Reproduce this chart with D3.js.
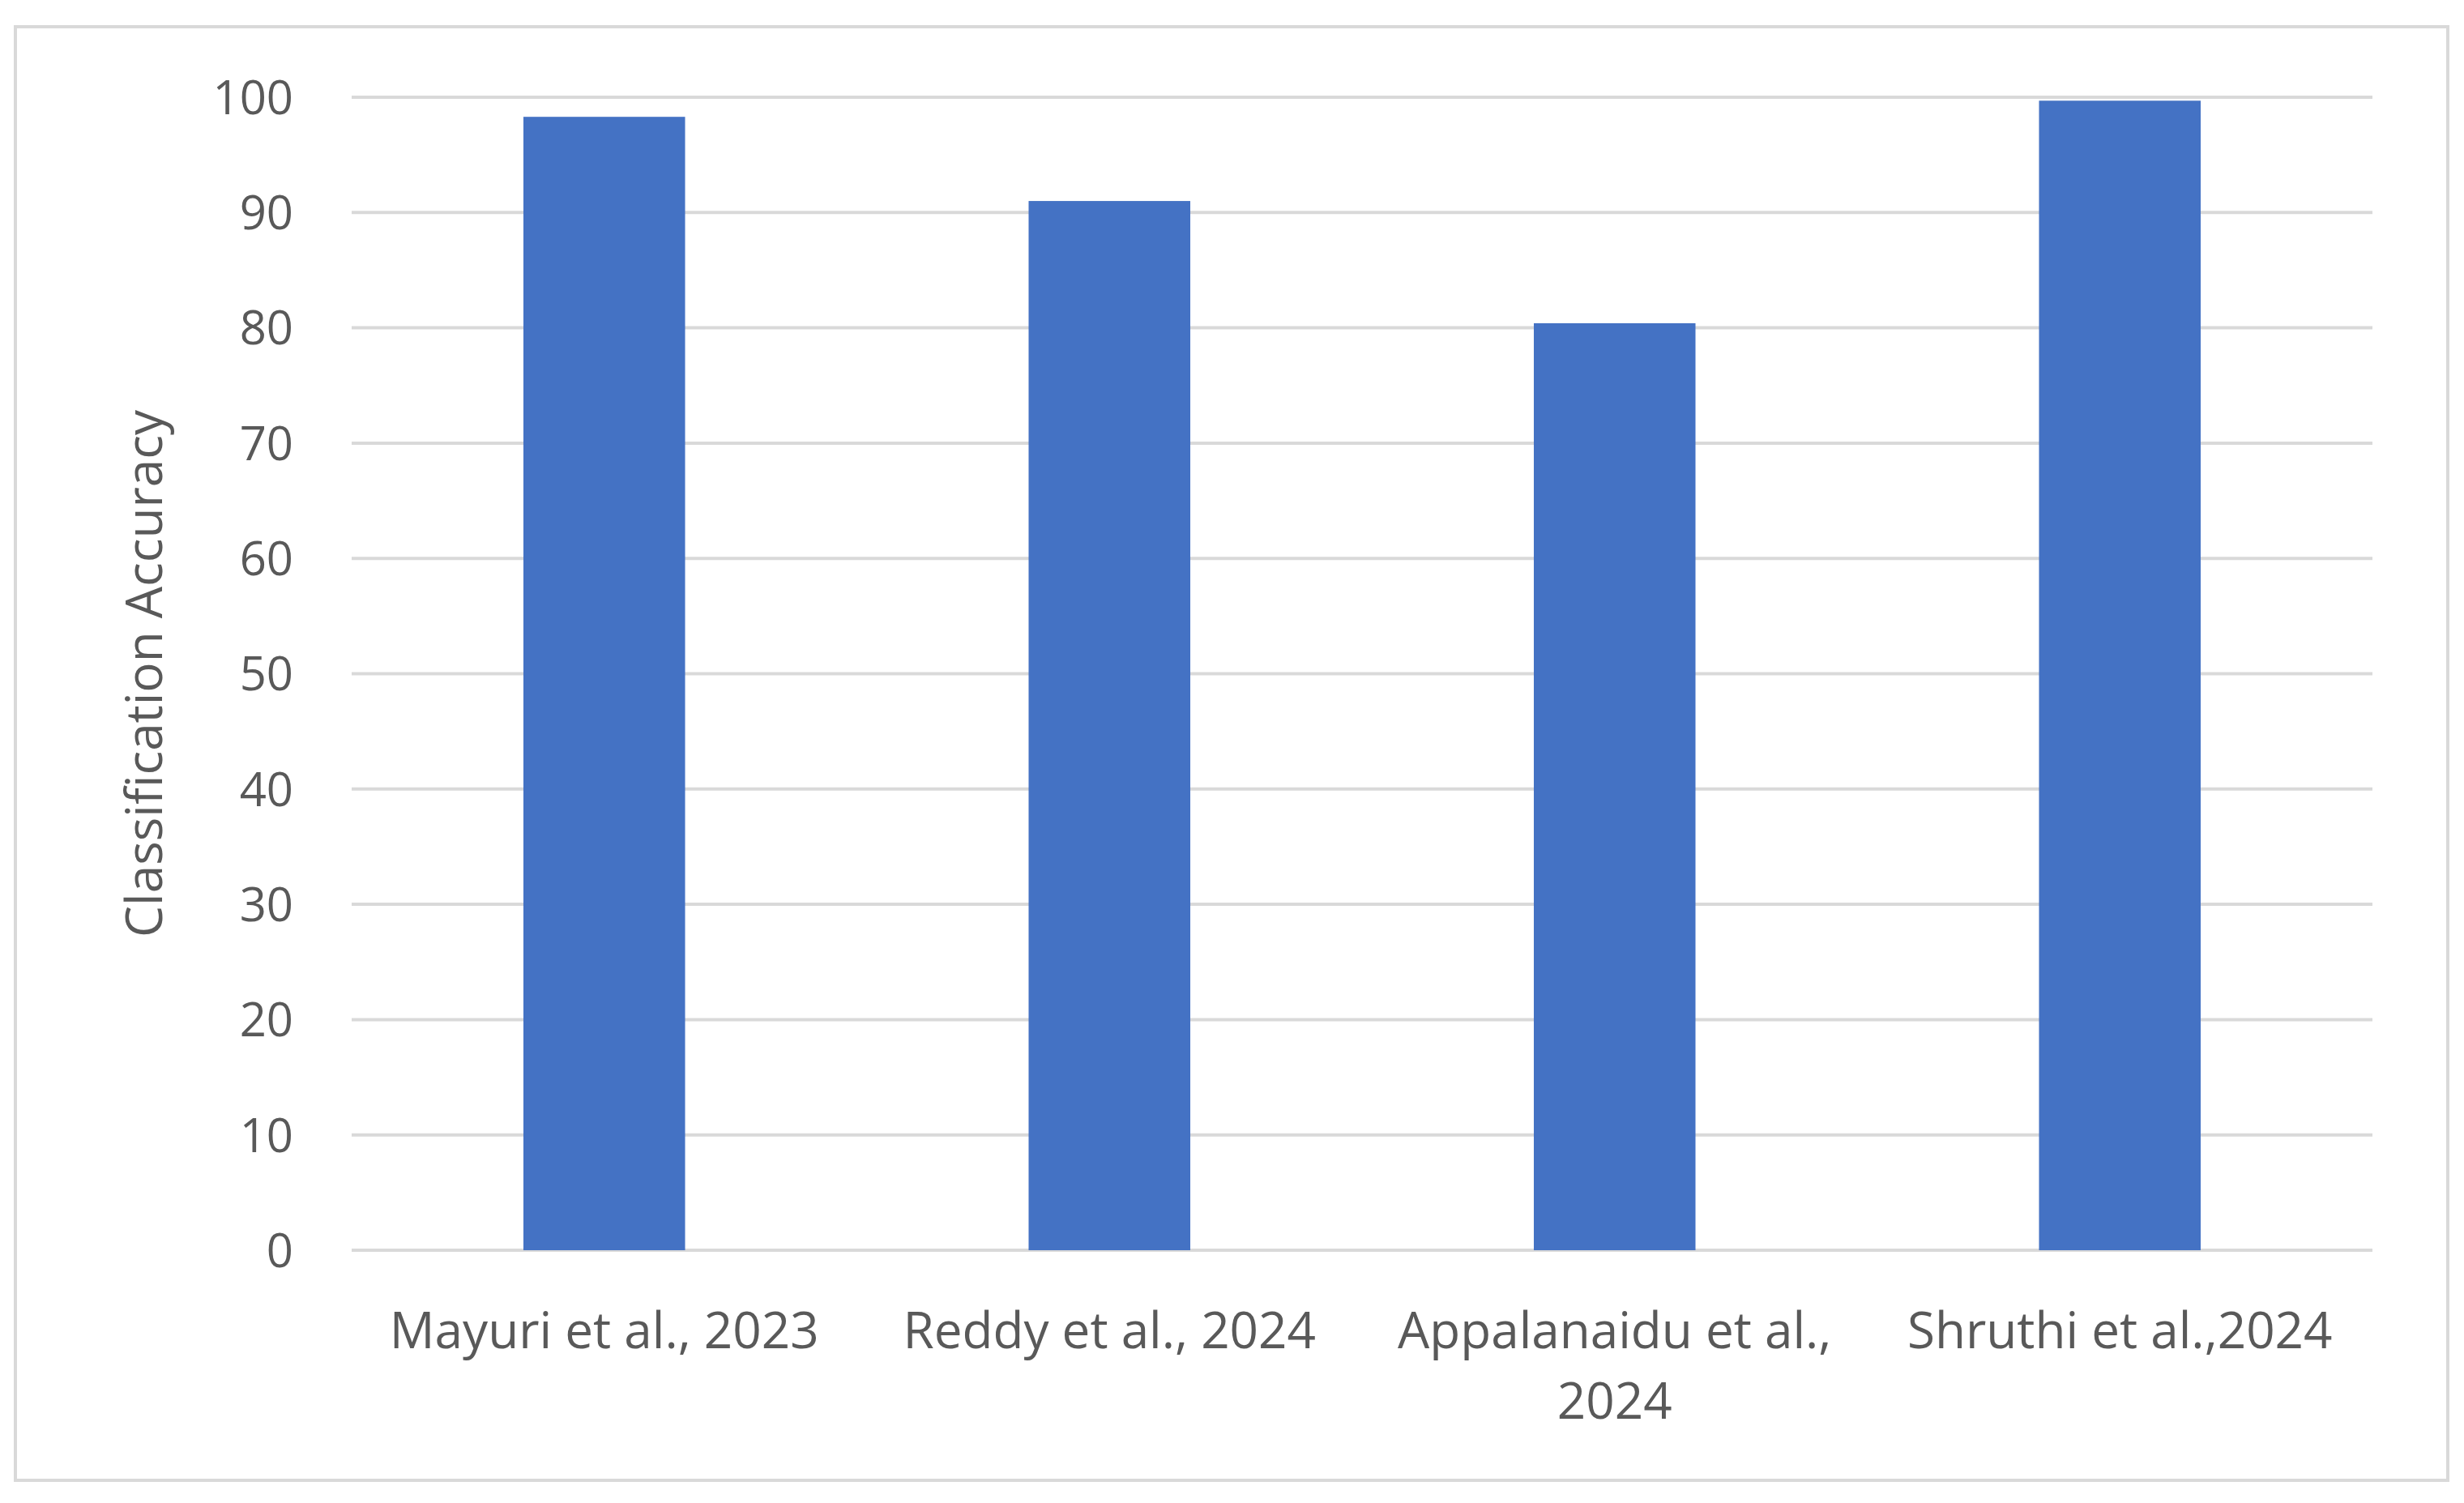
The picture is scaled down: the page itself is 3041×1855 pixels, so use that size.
<!DOCTYPE html>
<html>
<head>
<meta charset="utf-8">
<script src="https://cdn.jsdelivr.net/npm/d3@7"></script>
<style>
  body { margin: 0; background: #fff; }
  text { font-family: "Open Sans", "Noto Sans", sans-serif; fill: #595959; }
</style>
</head>
<body>
<svg id="chart" width="3041" height="1855"></svg>
<script>
// data
var categories = ["Mayuri et al., 2023", "Reddy et al., 2024", "Appalanaidu et al., 2024", "Shruthi et al.,2024"];
var labelLines = [["Mayuri et al., 2023"], ["Reddy et al., 2024"], ["Appalanaidu et al.,", "2024"], ["Shruthi et al.,2024"]];
var accuracy = [98.3, 91.0, 80.4, 99.7];
var yTicks = [0, 10, 20, 30, 40, 50, 60, 70, 80, 90, 100];

var svg = d3.select("#chart");

// outer border
svg.append("rect")
    .attr("x", 19).attr("y", 33)
    .attr("width", 3002).attr("height", 1794)
    .attr("fill", "none")
    .attr("stroke", "#d9d9d9")
    .attr("stroke-width", 4);

var plotLeft = 434, plotRight = 2928, plotTop = 120, plotBottom = 1543;

var x = d3.scaleBand().domain(categories).range([plotLeft, plotRight]).paddingInner(0.68).paddingOuter(0.34);
var y = d3.scaleLinear().domain([0, 100]).range([plotBottom, plotTop]);

// gridlines
svg.append("g")
    .selectAll("line")
    .data(yTicks)
    .join("line")
    .attr("x1", plotLeft).attr("x2", plotRight)
    .attr("y1", function(d) { return y(d); })
    .attr("y2", function(d) { return y(d); })
    .attr("stroke", "#d9d9d9")
    .attr("stroke-width", 4);

// bars
svg.append("g")
    .selectAll("rect")
    .data(accuracy)
    .join("rect")
    .attr("x", function(d, i) { return x(categories[i]); })
    .attr("width", x.bandwidth())
    .attr("y", function(d) { return y(d); })
    .attr("height", function(d) { return y(0) - y(d); })
    .attr("fill", "#4472c4");

// y tick labels
svg.append("g")
    .selectAll("text")
    .data(yTicks)
    .join("text")
    .attr("x", 362)
    .attr("y", function(d) { return y(d); })
    .attr("dy", "0.36em")
    .attr("text-anchor", "end")
    .attr("font-size", 58)
    .text(function(d) { return d; });

// x labels
var xl = svg.append("g")
    .selectAll("text")
    .data(categories)
    .join("text")
    .attr("x", function(d) { return x(d) + x.bandwidth() / 2; })
    .attr("y", 1664)
    .attr("text-anchor", "middle")
    .attr("font-size", 62);

xl.selectAll("tspan")
    .data(function(d, i) { return labelLines[i]; })
    .join("tspan")
    .attr("x", function() { return d3.select(this.parentNode).attr("x"); })
    .attr("dy", function(d, i) { return i === 0 ? 0 : 87; })
    .text(function(d) { return d; });

// y title
svg.append("text")
    .attr("transform", "translate(200," + ((plotTop + plotBottom) / 2) + ") rotate(-90)")
    .attr("text-anchor", "middle")
    .attr("font-size", 62)
    .text("Classification Accuracy");
</script>
</body>
</html>
